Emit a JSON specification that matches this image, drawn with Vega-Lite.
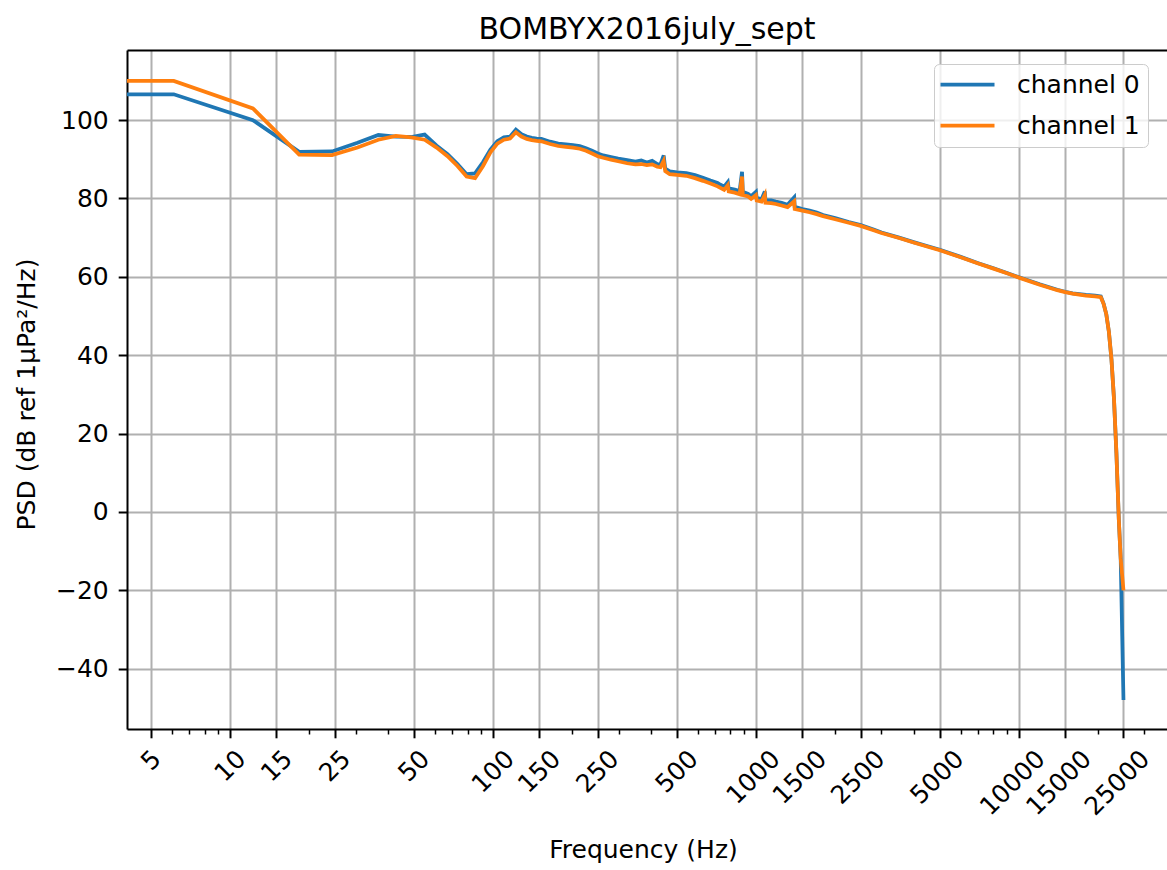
{
 "$schema": "https://vega.github.io/schema/vega-lite/v6.json",
 "width": 1040,
 "height": 679,
 "autosize": {"type": "none"},
 "padding": {"left": 127, "top": 50, "right": 0, "bottom": 141},
 "background": "white",
 "config": {
  "view": {"stroke": null},
  "font": "DejaVu Sans",
  "axis": {
   "labelFont": "DejaVu Sans", "titleFont": "DejaVu Sans",
   "labelColor": "black", "titleColor": "black", "titleFontWeight": "normal",
   "labelFontSize": 25, "titleFontSize": 25,
   "gridColor": "#b0b0b0", "gridWidth": 2, "gridOpacity": 1,
   "domainColor": "black", "domainWidth": 2,
   "tickColor": "black", "tickWidth": 2, "tickSize": 8.8
  }
 },
 "title": {"text": "BOMBYX2016july_sept", "fontSize": 30, "font": "DejaVu Sans", "fontWeight": "normal", "color": "black", "anchor": "middle", "frame": "group", "baseline": "alphabetic", "offset": 15, "dy": 34},
 "data": {"values": [
  {"f": 3, "channel 0": 106.6, "channel 1": 110.0},
  {"f": 6.1, "channel 0": 106.6, "channel 1": 110.0},
  {"f": 12.2, "channel 0": 100.0, "channel 1": 103.0},
  {"f": 18.3, "channel 0": 91.9, "channel 1": 91.2},
  {"f": 24.4, "channel 0": 92.0, "channel 1": 91.1},
  {"f": 30.5, "channel 0": 94.2, "channel 1": 93.0},
  {"f": 36.6, "channel 0": 96.2, "channel 1": 95.0},
  {"f": 42.7, "channel 0": 95.8, "channel 1": 96.0},
  {"f": 48.8, "channel 0": 95.7, "channel 1": 95.6},
  {"f": 54.9, "channel 0": 96.3, "channel 1": 95.0},
  {"f": 61.0, "channel 0": 93.5, "channel 1": 93.0},
  {"f": 67.1, "channel 0": 91.3, "channel 1": 90.8},
  {"f": 73.2, "channel 0": 88.8, "channel 1": 88.3},
  {"f": 79.3, "channel 0": 86.2, "channel 1": 85.6},
  {"f": 85.4, "channel 0": 86.4, "channel 1": 85.2},
  {"f": 91.6, "channel 0": 89.3, "channel 1": 88.3},
  {"f": 97.7, "channel 0": 92.5, "channel 1": 91.8},
  {"f": 103.8, "channel 0": 94.6, "channel 1": 94.0},
  {"f": 109.9, "channel 0": 95.6, "channel 1": 95.0},
  {"f": 116.0, "channel 0": 95.8, "channel 1": 95.3},
  {"f": 122.1, "channel 0": 97.6, "channel 1": 96.9},
  {"f": 128.2, "channel 0": 96.4, "channel 1": 95.8},
  {"f": 134.3, "channel 0": 95.8, "channel 1": 95.2},
  {"f": 140.4, "channel 0": 95.5, "channel 1": 94.9},
  {"f": 146.5, "channel 0": 95.3, "channel 1": 94.7},
  {"f": 152.6, "channel 0": 95.2, "channel 1": 94.6},
  {"f": 164.8, "channel 0": 94.5, "channel 1": 93.9},
  {"f": 177.0, "channel 0": 94.0, "channel 1": 93.4},
  {"f": 189.2, "channel 0": 93.8, "channel 1": 93.2},
  {"f": 201.4, "channel 0": 93.6, "channel 1": 93.0},
  {"f": 213.6, "channel 0": 93.4, "channel 1": 92.7},
  {"f": 225.8, "channel 0": 92.8, "channel 1": 92.2},
  {"f": 238.0, "channel 0": 92.2, "channel 1": 91.5},
  {"f": 250.2, "channel 0": 91.5, "channel 1": 90.8},
  {"f": 262.5, "channel 0": 91.0, "channel 1": 90.4},
  {"f": 280.8, "channel 0": 90.6, "channel 1": 89.9},
  {"f": 299.1, "channel 0": 90.2, "channel 1": 89.5},
  {"f": 323.5, "channel 0": 89.8, "channel 1": 89.0},
  {"f": 347.9, "channel 0": 89.4, "channel 1": 88.7},
  {"f": 366.2, "channel 0": 89.7, "channel 1": 88.8},
  {"f": 384.5, "channel 0": 89.2, "channel 1": 88.5},
  {"f": 402.8, "channel 0": 89.6, "channel 1": 88.7},
  {"f": 421.1, "channel 0": 88.8, "channel 1": 88.1},
  {"f": 433.3, "channel 0": 88.7, "channel 1": 88.0},
  {"f": 445.6, "channel 0": 91.0, "channel 1": 89.6},
  {"f": 451.7, "channel 0": 87.6, "channel 1": 87.0},
  {"f": 470.0, "channel 0": 86.9, "channel 1": 86.2},
  {"f": 500.5, "channel 0": 86.7, "channel 1": 86.0},
  {"f": 543.2, "channel 0": 86.5, "channel 1": 85.8},
  {"f": 585.9, "channel 0": 86.0, "channel 1": 85.2},
  {"f": 628.7, "channel 0": 85.3, "channel 1": 84.5},
  {"f": 671.4, "channel 0": 84.6, "channel 1": 83.8},
  {"f": 714.1, "channel 0": 84.0, "channel 1": 83.1},
  {"f": 732.4, "channel 0": 83.5, "channel 1": 82.7},
  {"f": 756.8, "channel 0": 83.0, "channel 1": 82.2},
  {"f": 781.3, "channel 0": 84.2, "channel 1": 83.4},
  {"f": 787.4, "channel 0": 82.6, "channel 1": 81.8},
  {"f": 830.1, "channel 0": 82.3, "channel 1": 81.5},
  {"f": 866.7, "channel 0": 81.9, "channel 1": 81.1},
  {"f": 885.0, "channel 0": 86.8, "channel 1": 85.6},
  {"f": 891.1, "channel 0": 81.7, "channel 1": 80.9},
  {"f": 933.8, "channel 0": 81.2, "channel 1": 80.5},
  {"f": 958.3, "channel 0": 80.6, "channel 1": 79.9},
  {"f": 1000.0, "channel 0": 81.7, "channel 1": 80.9},
  {"f": 1006.1, "channel 0": 80.2, "channel 1": 79.5},
  {"f": 1050.0, "channel 0": 79.8, "channel 1": 79.2},
  {"f": 1080.3, "channel 0": 81.8, "channel 1": 80.9},
  {"f": 1086.4, "channel 0": 79.6, "channel 1": 78.9},
  {"f": 1141.3, "channel 0": 79.5, "channel 1": 78.8},
  {"f": 1190.0, "channel 0": 79.2, "channel 1": 78.6},
  {"f": 1251.2, "channel 0": 78.9, "channel 1": 78.2},
  {"f": 1318.4, "channel 0": 78.4, "channel 1": 77.8},
  {"f": 1397.7, "channel 0": 80.3, "channel 1": 79.3},
  {"f": 1403.8, "channel 0": 77.9, "channel 1": 77.3},
  {"f": 1501.5, "channel 0": 77.3, "channel 1": 76.9},
  {"f": 1599.1, "channel 0": 76.9, "channel 1": 76.5},
  {"f": 1702.9, "channel 0": 76.4, "channel 1": 76.0},
  {"f": 1800, "channel 0": 75.8, "channel 1": 75.5},
  {"f": 2001, "channel 0": 75.0, "channel 1": 74.7},
  {"f": 2252, "channel 0": 74.0, "channel 1": 73.8},
  {"f": 2502, "channel 0": 73.2, "channel 1": 73.0},
  {"f": 2801, "channel 0": 72.1, "channel 1": 71.9},
  {"f": 3003, "channel 0": 71.3, "channel 1": 71.2},
  {"f": 3503, "channel 0": 70.0, "channel 1": 69.9},
  {"f": 4004, "channel 0": 68.8, "channel 1": 68.7},
  {"f": 4504, "channel 0": 67.8, "channel 1": 67.7},
  {"f": 5005, "channel 0": 66.9, "channel 1": 66.8},
  {"f": 6006, "channel 0": 65.1, "channel 1": 65.0},
  {"f": 7007, "channel 0": 63.5, "channel 1": 63.4},
  {"f": 8008, "channel 0": 62.2, "channel 1": 62.1},
  {"f": 9009, "channel 0": 61.0, "channel 1": 60.9},
  {"f": 10010, "channel 0": 59.9, "channel 1": 59.8},
  {"f": 12000, "channel 0": 58.1, "channel 1": 58.0},
  {"f": 14002, "channel 0": 56.7, "channel 1": 56.6},
  {"f": 15003, "channel 0": 56.2, "channel 1": 56.1},
  {"f": 16003, "channel 0": 55.8, "channel 1": 55.7},
  {"f": 18005, "channel 0": 55.4, "channel 1": 55.2},
  {"f": 19507, "channel 0": 55.2, "channel 1": 55.0},
  {"f": 20500, "channel 0": 55.0, "channel 1": 54.8},
  {"f": 21000, "channel 0": 53.2, "channel 1": 53.1},
  {"f": 21500, "channel 0": 50.5, "channel 1": 50.5},
  {"f": 22000, "channel 0": 46.0, "channel 1": 46.0},
  {"f": 22500, "channel 0": 39.0, "channel 1": 39.0},
  {"f": 23000, "channel 0": 29.0, "channel 1": 29.0},
  {"f": 23500, "channel 0": 15.0, "channel 1": 15.0},
  {"f": 24000, "channel 0": -2.0, "channel 1": -2.0},
  {"f": 24400, "channel 0": -12.0, "channel 1": -12.0},
  {"f": 25000, "channel 0": -48.0, "channel 1": -20.0}
 ]},
 "transform": [{"fold": ["channel 0", "channel 1"], "as": ["c", "v"]}],
 "encoding": {
  "y": {
   "field": "v", "type": "quantitative",
   "scale": {"domain": [-55.4, 117.9], "nice": false, "zero": false},
   "axis": {
    "values": [-40, -20, 0, 20, 40, 60, 80, 100],
    "labelPadding": 10,
    "title": "PSD (dB ref 1µPa²/Hz)",
    "titleX": -101,
    "titleY": 344,
    "titleAlign": "center",
    "titleBaseline": "middle",
    "titleAngle": 270
   }
  }
 },
 "layer": [
  {
   "mark": {"type": "line", "strokeWidth": 3.75, "clip": true},
   "encoding": {
    "x": {
     "field": "f", "type": "quantitative",
     "scale": {"type": "log", "domain": [4.05, 36600], "nice": false},
     "axis": {
      "orient": "bottom",
      "values": [5, 6, 7, 8, 9, 10, 15, 20, 25, 30, 40, 50, 60, 70, 80, 90, 100, 150, 200, 250, 300, 400, 500, 600, 700, 800, 900, 1000, 1500, 2000, 2500, 3000, 4000, 5000, 6000, 7000, 8000, 9000, 10000, 15000, 20000, 25000, 30000],
      "format": "d",
      "labelExpr": "indexof([6,7,8,9,20,30,40,60,70,80,90,200,300,400,600,700,800,900,2000,3000,4000,6000,7000,8000,9000,20000,30000], datum.value) >= 0 ? '' : datum.label",
      "labelAngle": -45,
      "labelAlign": "right",
      "labelBaseline": "top",
      "labelPadding": 8,
      "labelOverlap": false,
      "labelFlush": false,
      "labelBound": false,
      "labelOffset": {"condition": [
        {"test": "datum.value >= 10000", "value": 13},
        {"test": "datum.value >= 1000", "value": 11},
        {"test": "datum.value >= 100", "value": 8},
        {"test": "datum.value >= 10", "value": 2.5}
       ], "value": -3.2},
      "gridOpacity": {"condition": {"test": "indexof([6,7,8,9,20,30,40,60,70,80,90,200,300,400,600,700,800,900,2000,3000,4000,6000,7000,8000,9000,20000,30000], datum.value) >= 0", "value": 0}, "value": 1},
      "tickSize": {"condition": {"test": "indexof([6,7,8,9,20,30,40,60,70,80,90,200,300,400,600,700,800,900,2000,3000,4000,6000,7000,8000,9000,20000,30000], datum.value) >= 0", "value": 5}, "value": 8.8},
      "tickWidth": {"condition": {"test": "indexof([6,7,8,9,20,30,40,60,70,80,90,200,300,400,600,700,800,900,2000,3000,4000,6000,7000,8000,9000,20000,30000], datum.value) >= 0", "value": 1.5}, "value": 2},
      "title": "Frequency (Hz)",
      "titleX": 516,
      "titleY": 128,
      "titleAlign": "center",
      "titleBaseline": "alphabetic"
     }
    },
    "color": {
     "field": "c", "type": "nominal",
     "scale": {"domain": ["channel 0", "channel 1"], "range": ["#1f77b4", "#ff7f0e"]},
     "legend": {
      "orient": "none", "legendX": 807, "legendY": 14,
      "title": null,
      "symbolType": "M-3,0H3", "symbolSize": 324, "symbolStrokeWidth": 3.75,
      "symbolOffset": 13, "symbolFillColor": "transparent",
      "labelFontSize": 25, "labelFont": "DejaVu Sans", "labelColor": "black",
      "labelOffset": 37, "rowPadding": 15, "padding": 8,
      "fillColor": "rgba(255,255,255,0.8)", "strokeColor": "#cccccc", "cornerRadius": 5
     }
    }
   }
  },
  {
   "mark": {"type": "line", "opacity": 0, "clip": true},
   "encoding": {
    "x": {"field": "f", "type": "quantitative", "axis": {"orient": "top", "labels": false, "ticks": false, "grid": false, "title": null, "domainColor": "black", "domainWidth": 2}}
   }
  }
 ],
 "resolve": {"axis": {"x": "independent"}}
}
